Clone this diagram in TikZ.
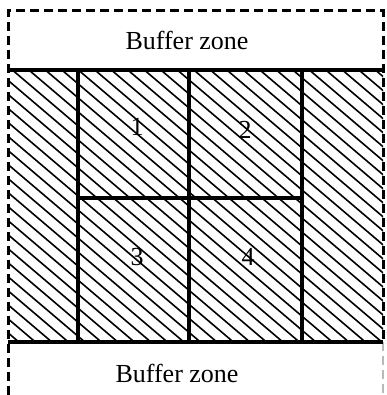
\documentclass[tikz,border=0pt]{standalone}
\usepackage{fontspec}
\setmainfont{Liberation Serif}
\begin{document}
\begin{tikzpicture}[x=1pt,y=-1pt,
  hatchline/.style={line width=1.6pt},
  plotline/.style={line width=3.4pt},
  bufline/.style={line width=3pt,dash pattern=on 9pt off 5pt},
  lbl/.style={font=\fontsize{26}{29}\selectfont,inner sep=0pt}]
\useasboundingbox (0,0) rectangle (386,395);
% hatching
\begin{scope}
  \clip (8,70) rectangle (383,342);
  \foreach \k in {0,...,43} {
    \draw[hatchline] ({-400+16.5*\k},0) -- ({-400+16.5*\k+500},425);
  }
\end{scope}
% buffer outline
\draw[bufline] (8,395) -- (8,11) -- (383,11) -- (383,342);
\draw[bufline,draw=gray!55,line width=1.4pt] (383,342) -- (383,395);
% hatched area edges
\draw[plotline] (8,70) -- (383,70);
\draw[plotline] (8,342) -- (383,342);
% plots
\draw[plotline] (78,70) rectangle (302,342);
\draw[plotline] (189,70) -- (189,342);
\draw[plotline] (78,198) -- (302,198);
% labels
\node[lbl] (top) at (187,40) {Buffer zone};
\node[lbl] (bot) at (177,373) {Buffer zone};
\node[lbl] (p1) at (137,127) {1};
\node[lbl] (p2) at (245,130) {2};
\node[lbl] (p3) at (137,257) {3};
\node[lbl] (p4) at (248,257) {4};
\end{tikzpicture}
\end{document}
